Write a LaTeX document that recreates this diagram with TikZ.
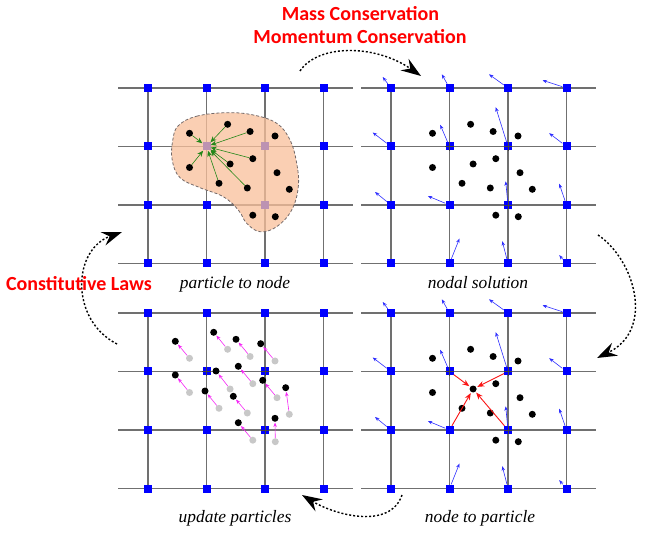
\documentclass[tikz,border=0pt]{standalone}
\usepackage{fontspec}
\setmainfont{Liberation Serif}
\newfontfamily\titlefont{Carlito}
\usetikzlibrary{arrows.meta}
\definecolor{gridgray}{RGB}{112,112,112}
\definecolor{nodeblue}{RGB}{0,0,255}
\definecolor{blobfill}{RGB}{248,192,155}
\definecolor{blobline}{RGB}{115,105,105}
\definecolor{arrgreen}{RGB}{35,135,25}
\definecolor{velblue}{RGB}{45,45,255}
\definecolor{ghostgray}{RGB}{200,200,200}
\definecolor{titlered}{RGB}{255,0,0}
\definecolor{magarrow}{RGB}{245,40,245}
\definecolor{redarrow}{RGB}{250,20,20}
\begin{document}
\begin{tikzpicture}[x=1pt,y=-1pt,
  gridline/.style={draw=gridgray,line width=1.3pt},
  gnode/.style={rectangle,fill=nodeblue,minimum size=8pt,inner sep=0pt},
  pdot/.style={circle,fill=black,minimum size=7pt,inner sep=0pt},
  gdot/.style={circle,fill=ghostgray,minimum size=7pt,inner sep=0pt},
  velarrow/.style={draw=velblue,line width=0.6pt,-{Stealth[length=4.5pt,width=3.5pt]}},
  greenarrow/.style={draw=arrgreen,line width=0.6pt,-{Stealth[length=6pt,width=5pt]}},
  magentaarrow/.style={draw=magarrow,line width=0.6pt,shorten >=0.5pt,-{Stealth[length=4.5pt,width=3.5pt]}},
  redvec/.style={draw=redarrow,line width=0.9pt,shorten >=1pt,-{Stealth[length=7pt,width=5.5pt]}},
  crossline/.style={draw=gridgray!60!black,line width=0.8pt},
  cyclearrow/.style={draw=black,line width=1.4pt,dash pattern=on 2pt off 2pt,-{Stealth[length=20pt,width=14pt,inset=7pt]}},
  titletext/.style={font=\titlefont\bfseries\fontsize{20}{24}\selectfont,text=titlered,anchor=base,inner sep=0pt},
  steplabel/.style={font=\itshape\fontsize{17.4}{20}\selectfont,anchor=base,inner sep=0pt}
]
\useasboundingbox (0,0) rectangle (645,534);
\def\plist{41.5/45.3, 79.6/36.3, 102.1/43.5, 127/48, 104.8/70.7, 82.1/76, 41.5/79.5, 129/84.7, 71/95.3, 99.3/100, 141.3/101.3, 104.8/127.2, 127.3/128.7}
\def\newlist{27.3/28.3, 65.7/19.3, 88/26.3, 112.7/30.7, 90.3/53.3, 68/58, 27.3/62, 114.7/67.3, 57/78, 85.3/83.3, 137.7/74.7, 90.3/109.7, 127/105.3}
\def\vlist{0/0/-8.3/-11, 1/0/-7.7/-13.7, 2/0/-19/-13.7, 3/0/-24/-7.7, 0/1/-18.3/-14, 1/1/-9.3/-21.7, 2/1/-12.3/-39.3, 3/1/-17.3/-13.3, 0/2/-16/-13, 1/2/-21.7/-9, 2/2/-2.3/-23.7, 3/2/-7.3/-21.3, 1/3/10/-25, 2/3/-5.7/-22.3, 3/3/-7.3/-8.3}

% grids and grid nodes
\foreach \p/\ox/\oy in {a/148/88,b/391/88,c/148/313,d/391/313}{
  \foreach \k in {0,...,3}{
    \draw[gridline] (\ox-30,\oy+\k*58.5) -- (\ox+205,\oy+\k*58.5);
    \draw[gridline] (\ox+\k*58.5,\oy) -- (\ox+\k*58.5,\oy+175.5);
  }
  \foreach \i in {0,...,3}{\foreach \j in {0,...,3}{
    \node[gnode] (\p-\i-\j) at (\ox+\i*58.5,\oy+\j*58.5) {};
  }}
}

% cross marks over active nodes
\foreach \p in {b,c,d}{
  \foreach \i/\j in {1/1,2/1,2/2}{
    \draw[crossline] (\p-\i-\j.west) -- (\p-\i-\j.east);
    \draw[crossline] (\p-\i-\j.north) -- (\p-\i-\j.south);
  }
}

% panel a: particle to node
\path[fill=blobfill,fill opacity=0.76,draw=blobline,line width=0.8pt,dash pattern=on 3pt off 2pt]
  plot[smooth cycle,tension=0.65] coordinates {(178.3,125.7) (196.7,116.2) (226.7,112.7) (253.3,115) (276.7,123.3) (290,140) (296.7,163.3) (298.3,186.7) (291.7,210) (276.7,226.7) (260,231.7) (246.7,223.3) (238.3,210) (223.3,196.7) (200,187.7) (180,177.7) (172.2,160) (172.8,140)};
\foreach \px/\py [count=\n] in \plist{
  \node[pdot] (a-p\n) at (148+\px,88+\py) {};
}
\foreach \n in {1,2,3,5,6,7,9,10}{
  \draw[greenarrow] (a-p\n) -- (a-1-1);
}

% panels b and d: nodal velocities and particles
\foreach \p/\ox/\oy in {b/391/88,d/391/313}{
  \foreach \i/\j/\dx/\dy [count=\n] in \vlist{
    \coordinate (\p-v\n) at (\ox+\i*58.5+\dx,\oy+\j*58.5+\dy);
    \draw[velarrow] (\p-\i-\j) -- (\p-v\n);
  }
  \foreach \px/\py [count=\n] in \plist{
    \node[pdot] (\p-p\n) at (\ox+\px,\oy+\py) {};
  }
}

% panel d: node to particle
\foreach \i/\j in {1/1,2/1,1/2,2/2}{
  \draw[redvec] (d-\i-\j) -- (d-p6);
}

% panel c: update particles
\foreach \px/\py [count=\n] in \plist{
  \node[gdot] (c-g\n) at (148+\px,313+\py) {};
}
\foreach \px/\py [count=\n] in \newlist{
  \node[pdot] (c-p\n) at (148+\px,313+\py) {};
  \draw[magentaarrow] (c-g\n) -- (c-p\n);
}

% cycle arrows
\coordinate (t1) at (300,71);
\coordinate (t2) at (421,76);
\coordinate (r1) at (598,235);
\coordinate (r2) at (597,358);
\coordinate (b1) at (402,495);
\coordinate (b2) at (302,495);
\coordinate (l1) at (117,344);
\coordinate (l2) at (122,232);
\draw[cyclearrow] (t1) .. controls (318,44) and (375,44) .. (t2);
\draw[cyclearrow] (r1) .. controls (635,260) and (655,330) .. (r2);
\draw[cyclearrow] (b1) .. controls (390,530) and (335,515) .. (b2);
\draw[cyclearrow] (l1) .. controls (70,320) and (72,250) .. (l2);

% texts
\node[titletext] (mass) at (360.5,20.7) {Mass Conservation};
\node[titletext] (mom) at (360,43.5) {Momentum Conservation};
\node[titletext] (const) at (79,291) {Constitutive Laws};
\node[steplabel] (lab1) at (235,289) {particle to node};
\node[steplabel] (lab2) at (478,289) {nodal solution};
\node[steplabel] (lab3) at (235,522) {update particles};
\node[steplabel] (lab4) at (480,522) {node to particle};
\end{tikzpicture}
\end{document}
